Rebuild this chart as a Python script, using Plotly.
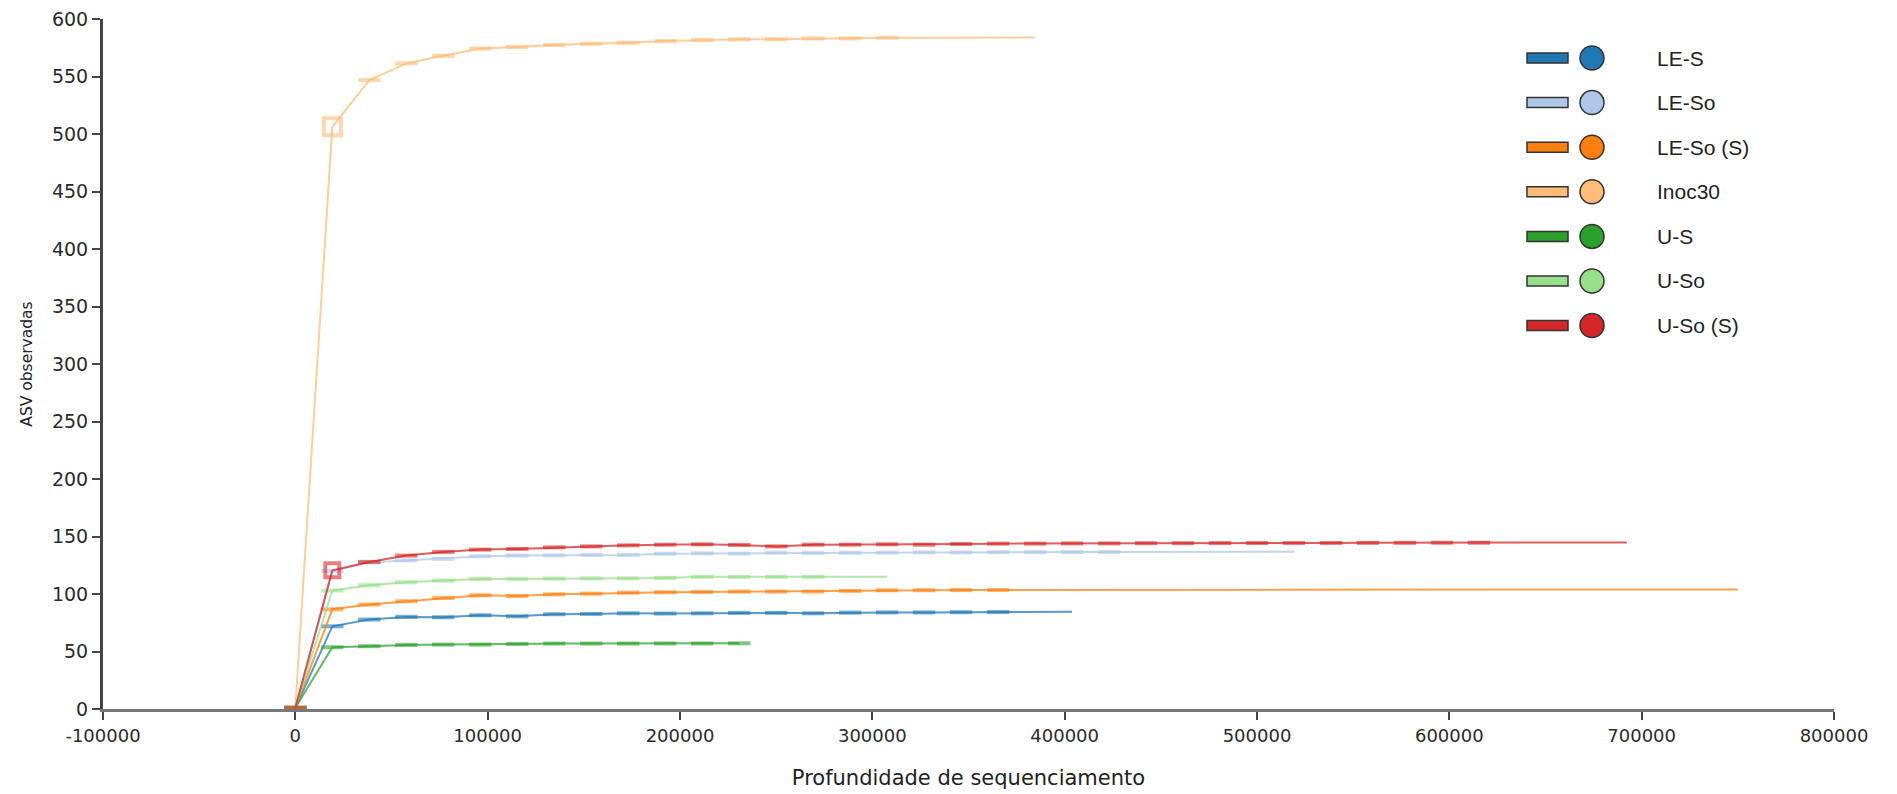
import plotly.graph_objects as go

# Rarefaction depths (sequencing depth steps)
depths = [1, 19232, 38462, 57693, 76924, 96155, 115385, 134616, 153847, 173078,
          192308, 211539, 230770, 250001, 269231, 288462, 307693, 326924, 346154, 365385,
          384616, 403847, 423077, 442308, 461539, 480770, 500000, 519231, 538462, 557693,
          576924, 596154, 615385, 634616, 653847, 673077, 692308, 711539, 730770, 750000]

names = ["LE-S", "LE-So", "LE-So (S)", "Inoc30", "U-S", "U-So", "U-So (S)"]
colors = ["#1f77b4", "#aec7e8", "#ff7f0e", "#ffbb78", "#2ca02c", "#98df8a", "#d62728"]

le_s = [1, 71.9, 77.8, 80.1, 79.8, 81.5, 80.6, 82.4, 82.7, 83.2, 83.0, 83.2, 83.6, 83.6,
        83.2, 83.8, 84.0, 84.0, 84.2, 84.3, 84.4, 84.5]
le_so = [1, 120.0, 127.5, 129.3, 130.5, 132.8, 133.4, 133.6, 134.0, 134.0, 135.1, 135.4,
         135.1, 136.0, 135.7, 135.8, 136.0, 136.2, 136.2, 136.4, 136.4, 136.5, 136.5,
         136.6, 136.6, 136.7, 136.7, 136.8]
le_so_s = [1, 86.7, 90.8, 93.7, 96.6, 98.9, 98.3, 99.7, 100.3, 101.2, 101.5, 101.8, 102.1,
           102.1, 102.1, 102.7, 103.2, 103.3, 103.4, 103.5, 103.5, 103.6, 103.6, 103.7,
           103.7, 103.7, 103.8, 103.8, 103.8, 103.8, 103.9, 103.9, 103.9, 103.9, 104.0,
           104.0, 104.0, 104.0, 104.0, 104.0]
inoc30 = [1, 506.3, 546.9, 561.4, 568.0, 574.4, 575.6, 577.4, 578.5, 579.3, 580.8, 581.7,
          582.3, 582.5, 583.1, 583.1, 583.7, 583.7, 584.0, 584.0, 584.0]
u_s = [1, 53.7, 54.6, 55.7, 56.0, 56.0, 56.6, 56.9, 56.9, 56.9, 57.0, 57.0, 57.1]
u_so = [1, 103.0, 107.6, 110.2, 111.7, 113.1, 113.1, 113.4, 113.6, 113.6, 114.0, 114.9,
        114.9, 114.9, 114.9, 115.1, 115.1]
u_so_s = [1, 120.6, 127.9, 133.4, 136.6, 138.6, 139.2, 140.6, 141.4, 142.3, 142.9, 143.2,
          142.7, 141.4, 142.9, 142.9, 143.2, 142.9, 143.5, 143.8, 143.8, 144.0, 144.0,
          144.2, 144.2, 144.3, 144.3, 144.4, 144.4, 144.5, 144.5, 144.6, 144.6, 144.7,
          144.7, 144.8, 144.8]

series = [le_s, le_so, le_so_s, inoc30, u_s, u_so, u_so_s]
# last depth index where a visible box (several samples) is still drawn
box_until = [19, 22, 19, 16, 12, 14, 32]
wide_first_box = ["Inoc30", "U-So (S)"]

x_ticks = [-100000, 0, 100000, 200000, 300000, 400000, 500000, 600000, 700000, 800000]
y_ticks = [0, 50, 100, 150, 200, 250, 300, 350, 400, 450, 500, 550, 600]

W, H = 1897, 794
L, R, T, B = 103, 63, 19, 85
pw, ph = W - L - R, H - T - B


def rgba(hx, a):
    hx = hx.lstrip("#")
    return "rgba(%d,%d,%d,%s)" % (int(hx[0:2], 16), int(hx[2:4], 16), int(hx[4:6], 16), a)


fig = go.Figure()
for name, col, vals, bu in zip(names, colors, series, box_until):
    xs = depths[:len(vals)]
    n = len(vals)
    syms = ["line-ew"] * n
    sizes = [16 if i <= bu else 0 for i in range(n)]
    if name in wide_first_box:
        syms[1] = "square-open"
        sizes[1] = 17 if name == "Inoc30" else 14
    fig.add_trace(go.Scatter(
        x=xs, y=vals, mode="lines+markers", name=name, showlegend=False,
        line=dict(color=rgba(col, 0.75), width=2),
        marker=dict(symbol=syms, size=sizes, color=rgba(col, 0.85),
                    line=dict(color=rgba(col, 0.85), width=4)),
    ))

# Custom legend (bar + circle + label), built from names/colors
row0 = 58
step = 44.6


def px(x):
    return (x - L) / pw


def py(y):
    return 1 - (y - T) / ph


shapes = []
annotations = []
for i, (name, col) in enumerate(zip(names, colors)):
    cy = row0 + i * step
    shapes.append(dict(type="rect", xref="paper", yref="paper",
                       x0=px(1527), x1=px(1568), y0=py(cy - 5), y1=py(cy + 5),
                       fillcolor=col, line=dict(color="#333333", width=1.5)))
    shapes.append(dict(type="circle", xref="paper", yref="paper",
                       x0=px(1592 - 12), x1=px(1592 + 12), y0=py(cy - 12), y1=py(cy + 12),
                       fillcolor=col, line=dict(color="#333333", width=1.5)))
    annotations.append(dict(text=name, xref="paper", yref="paper", x=px(1655), y=py(cy),
                            xanchor="left", yanchor="middle", showarrow=False,
                            font=dict(family="Liberation Sans, Arial", size=21, color="#222222")))

fig.update_layout(
    width=W, height=H,
    margin=dict(l=L, r=R, t=T, b=B, pad=0),
    paper_bgcolor="white", plot_bgcolor="white",
    shapes=shapes, annotations=annotations,
    font=dict(family="DejaVu Sans", size=18, color="#333333"),
    xaxis=dict(range=[-100000, 800000], tickvals=x_ticks,
               ticktext=[str(v) for v in x_ticks], automargin=False,
               showgrid=False, zeroline=False, showline=True, linecolor="#777777",
               linewidth=3, ticks="outside", ticklen=8, tickwidth=2, tickcolor="#444444",
               tickfont=dict(size=18, color="#2a2a2a"),
               title=dict(text="Profundidade de sequenciamento",
                          font=dict(family="DejaVu Sans", size=21, color="#222222"),
                          standoff=26)),
    yaxis=dict(range=[0, 600], tickvals=y_ticks, showgrid=False, zeroline=False,
               automargin=False,
               showline=True, linecolor="#444444", linewidth=3, ticks="outside",
               ticklen=8, tickwidth=2, tickcolor="#444444",
               tickfont=dict(size=19, color="#2a2a2a"),
               title=dict(text="ASV observadas",
                          font=dict(family="DejaVu Sans", size=15.5, color="#222222"),
                          standoff=16)),
)

fig.write_html("out.html")
